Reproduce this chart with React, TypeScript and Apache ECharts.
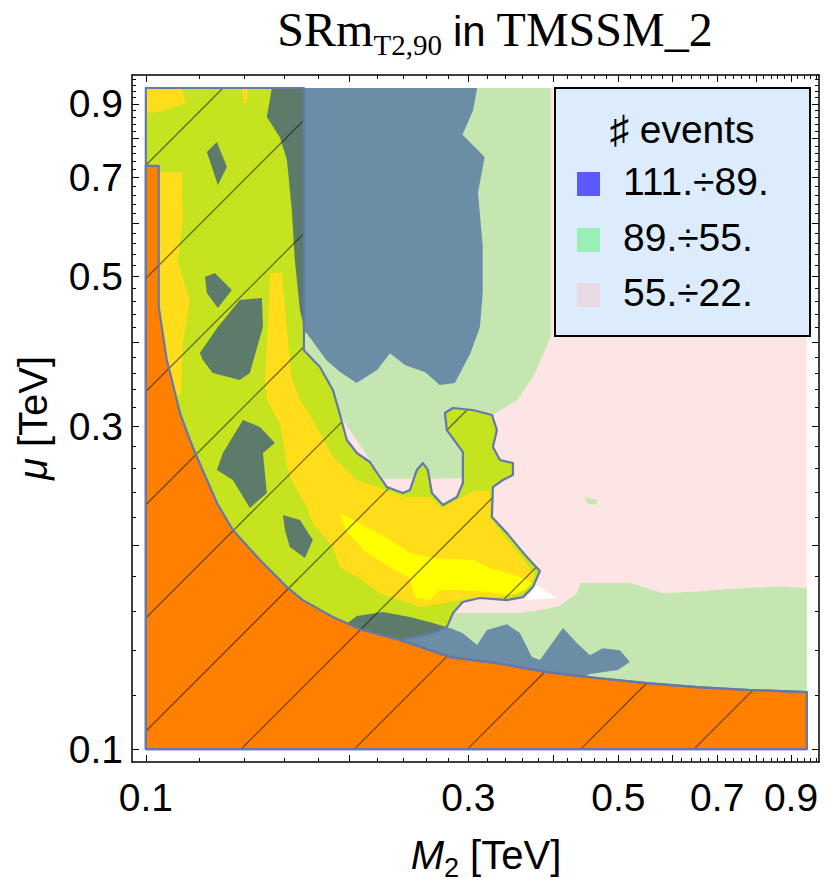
import React, { useEffect, useRef } from 'react';
import * as echarts from 'echarts';

// ---------- axes (TeV, log scale) ----------
const X_RANGE = [0.0954, 0.99];
const Y_RANGE = [0.0957, 0.993];
const X_TICK_LABELS = [0.1, 0.3, 0.5, 0.7, 0.9];
const Y_TICK_LABELS = [0.1, 0.3, 0.5, 0.7, 0.9];
const MAJOR_TICKS = [0.1, 0.2, 0.3, 0.4, 0.5, 0.6, 0.7, 0.8, 0.9];
const MINOR_TICKS: number[] = [];
for (let i = 10; i <= 98; i += 2) MINOR_TICKS.push(Number((i / 100).toFixed(2)));

// ---------- legend ----------
const LEGEND_TITLE = '♯ events';
const LEGEND_LABELS = ['111.÷89.', '89.÷55.', '55.÷22.'];

// ---------- regions, vertices as [M2, mu] in TeV ----------
const PINK_55_22 = [[0.1, 0.1], [0.95, 0.1], [0.95, 0.95], [0.1, 0.95]];

const GREEN_UPPER = [[0.169, 0.95], [0.397, 0.95], [0.397, 0.407], [0.374, 0.355], [0.354, 0.328], [0.334, 0.317], [0.323, 0.309], [0.302, 0.287], [0.296, 0.252], [0.272, 0.251], [0.224, 0.251], [0.187, 0.328], [0.169, 0.389]];
const GREEN_LOWER = [[0.272, 0.159], [0.312, 0.159], [0.357, 0.159], [0.389, 0.161], [0.41, 0.163], [0.434, 0.17], [0.439, 0.176], [0.52, 0.176], [0.582, 0.17], [0.653, 0.171], [0.731, 0.1725], [0.867, 0.174], [0.95, 0.173], [0.95, 0.118], [0.254, 0.131], [0.254, 0.153]];
const GREEN_ISLANDS = [
  [[0.446, 0.236], [0.466, 0.2335], [0.463, 0.2296], [0.449, 0.231]],
  [[0.228, 0.944], [0.231, 0.944], [0.231, 0.912], [0.228, 0.912]],
  [[0.2285, 0.665], [0.232, 0.66], [0.231, 0.642], [0.228, 0.65]],
];

const BLUE_UPPER = [[0.169, 0.95], [0.309, 0.95], [0.305, 0.882], [0.294, 0.81], [0.317, 0.751], [0.31, 0.665], [0.315, 0.553], [0.315, 0.473], [0.312, 0.421], [0.302, 0.385], [0.2865, 0.348], [0.272, 0.3455], [0.259, 0.361], [0.2416, 0.37], [0.2296, 0.385], [0.22, 0.364], [0.205, 0.348], [0.194, 0.361], [0.185, 0.376], [0.173, 0.412], [0.169, 0.417]];
const BLUE_LOWER = [[0.2376, 0.1445], [0.263, 0.1515], [0.2817, 0.151], [0.294, 0.1485], [0.309, 0.1425], [0.3195, 0.15], [0.342, 0.153], [0.3575, 0.1485], [0.3724, 0.1368], [0.3827, 0.1354], [0.414, 0.151], [0.434, 0.1435], [0.4538, 0.1377], [0.474, 0.141], [0.5026, 0.14], [0.52, 0.1345], [0.499, 0.1309], [0.4538, 0.1291], [0.41, 0.1223], [0.2376, 0.1223]];
const WHITE_GAP = [[0.3775, 0.1748], [0.4055, 0.1673], [0.3636, 0.1661]];

// excluded region boundary (upper part), then follows the orange edge
const EXCL_UPPER = [[0.1, 0.95], [0.1713, 0.95], [0.1713, 0.389], [0.1809, 0.3674], [0.1891, 0.3397], [0.1923, 0.3206], [0.1983, 0.2865], [0.2052, 0.2741], [0.2145, 0.2658], [0.2219, 0.2526], [0.2273, 0.2441], [0.24, 0.2392], [0.2458, 0.2416], [0.2517, 0.2587], [0.2569, 0.2649], [0.2613, 0.2587], [0.2649, 0.2392], [0.275, 0.2296], [0.2885, 0.236], [0.2944, 0.2475], [0.2944, 0.275], [0.2788, 0.2964], [0.2769, 0.3141], [0.2846, 0.3195], [0.3046, 0.3173], [0.325, 0.312], [0.3306, 0.2964], [0.3261, 0.2797], [0.334, 0.2676], [0.3491, 0.2649], [0.3491, 0.2543], [0.3374, 0.25], [0.3261, 0.2441], [0.325, 0.2204], [0.342, 0.2087], [0.3661, 0.1923], [0.3827, 0.1834], [0.3737, 0.1736], [0.3612, 0.1678], [0.342, 0.1661], [0.312, 0.1673], [0.2944, 0.165], [0.2846, 0.1589], [0.2788, 0.1515], [0.2631, 0.148]];
const ORANGE = [[0.1, 0.7286], [0.1045, 0.7286], [0.1045, 0.4507], [0.1074, 0.3762], [0.1093, 0.3515], [0.1123, 0.3141], [0.1162, 0.2865], [0.119, 0.2704], [0.1274, 0.2312], [0.1345, 0.2109], [0.1475, 0.1904], [0.1617, 0.1736], [0.1707, 0.1661], [0.1891, 0.1568], [0.2087, 0.15], [0.2376, 0.145], [0.2817, 0.1368], [0.3306, 0.134], [0.3919, 0.13], [0.4647, 0.1274], [0.551, 0.1252], [0.6533, 0.1235], [0.7826, 0.1223], [0.95, 0.1214], [0.95, 0.1], [0.1, 0.1]];
const EXCL = [...EXCL_UPPER, ...ORANGE.slice(15)];

const YELLOW_MAIN = [[0.1526, 0.506], [0.1589, 0.506], [0.1617, 0.4167], [0.1644, 0.3539], [0.169, 0.3283], [0.1766, 0.3067], [0.1891, 0.2704], [0.2052, 0.25], [0.2257, 0.2416], [0.2416, 0.236], [0.2631, 0.236], [0.274, 0.2273], [0.2894, 0.2335], [0.3067, 0.2416], [0.3228, 0.24], [0.3228, 0.2197], [0.3397, 0.2059], [0.3624, 0.1904], [0.3762, 0.1809], [0.3699, 0.1748], [0.3551, 0.1695], [0.334, 0.1678], [0.3015, 0.1673], [0.2722, 0.1639], [0.2543, 0.1622], [0.2376, 0.1661], [0.2219, 0.1701], [0.2087, 0.1778], [0.1936, 0.1859], [0.1891, 0.199], [0.1766, 0.2159], [0.1731, 0.228], [0.165, 0.2475], [0.1617, 0.2613], [0.1595, 0.2865], [0.1578, 0.3036], [0.151, 0.3283], [0.15, 0.3515], [0.1515, 0.4167]];
const YELLOW_BRIGHT = [[0.1936, 0.2234], [0.2094, 0.2145], [0.2273, 0.2052], [0.2458, 0.195], [0.2658, 0.1917], [0.3046, 0.1904], [0.3228, 0.1853], [0.3551, 0.1803], [0.3724, 0.176], [0.3636, 0.1719], [0.3455, 0.169], [0.3206, 0.1707], [0.2914, 0.1719], [0.2722, 0.1719], [0.2631, 0.1661], [0.25, 0.1673], [0.2458, 0.179], [0.2296, 0.1859], [0.2123, 0.195], [0.1983, 0.2094]];
const YELLOW_LEFT = [[0.1014, 0.7138], [0.113, 0.7138], [0.1134, 0.6062], [0.1115, 0.5254], [0.1162, 0.4616], [0.1134, 0.396], [0.1127, 0.334], [0.1049, 0.334], [0.1014, 0.4507]];
const YELLOW_TOP = [[0.1, 0.95], [0.113, 0.95], [0.1146, 0.903], [0.1049, 0.8757], [0.1, 0.8727]];
const YELLOW_DOT = [[0.1387, 0.95], [0.1415, 0.95], [0.141, 0.903], [0.1395, 0.903]];

const DARK_PATCHES = [
  [[0.1536, 0.95], [0.1713, 0.95], [0.1713, 0.421], [0.169, 0.4461], [0.1661, 0.5289], [0.1644, 0.6272], [0.1617, 0.7436], [0.1578, 0.8042], [0.151, 0.8609]],
  [[0.1231, 0.7641], [0.1274, 0.7906], [0.1318, 0.7261], [0.1278, 0.6829]],
  [[0.1223, 0.4992], [0.1265, 0.506], [0.134, 0.4776], [0.1278, 0.4492], [0.1231, 0.4727]],
  [[0.1202, 0.3853], [0.1278, 0.421], [0.1377, 0.4616], [0.1485, 0.4647], [0.149, 0.421], [0.1425, 0.3599], [0.1377, 0.3515], [0.1256, 0.3599], [0.1214, 0.3762]],
  [[0.1392, 0.3067], [0.1475, 0.2995], [0.1552, 0.2836], [0.149, 0.2741], [0.151, 0.2392], [0.1425, 0.2273], [0.1345, 0.25], [0.1274, 0.2587], [0.13, 0.2741]],
  [[0.1595, 0.2219], [0.169, 0.2182], [0.1766, 0.2038], [0.1719, 0.1917], [0.1633, 0.199], [0.1606, 0.2109]],
  [[0.197, 0.1526], [0.2052, 0.1573], [0.2242, 0.1595], [0.2458, 0.1568], [0.2658, 0.1536], [0.2778, 0.1515], [0.2631, 0.148], [0.2376, 0.145], [0.2145, 0.148], [0.2003, 0.15]],
];

// ---------- styles ----------
const C = {
  pink: '#fde5e5',
  green: '#c5e6b0',
  blue: '#6b8ea6',
  dark: '#5d7b6a',
  yg: '#c5e31f',
  yellow: '#ffdd1a',
  bright: '#ffff00',
  orange: '#ff8000',
  outline: '#6479aa',
  hatch: 'rgba(25,25,25,0.6)',
  legendBg: '#dcecfc',
  legBlue: '#5a5aff',
  legGreen: '#9af0b4',
  legPink: '#e8d9e2',
};
const HATCH_STEP = 113.2; // px between hatch lines (horizontal)
const HATCH_PHASE = 311; // px, x+y of one hatch line
const SANS = "'Liberation Sans', Arial, 'DejaVu Sans', sans-serif";
const SERIF = "'Liberation Serif', 'Times New Roman', 'DejaVu Serif', serif";

type Layer = { pts: number[][]; fill?: string; stroke?: string; lw?: number; hatch?: boolean };
const LAYERS: Layer[] = [
  { pts: PINK_55_22, fill: C.pink },
  { pts: GREEN_UPPER, fill: C.green },
  { pts: GREEN_LOWER, fill: C.green },
  ...GREEN_ISLANDS.map((p) => ({ pts: p, fill: C.green })),
  { pts: BLUE_UPPER, fill: C.blue },
  { pts: BLUE_LOWER, fill: C.blue },
  { pts: WHITE_GAP, fill: '#ffffff' },
  { pts: EXCL, fill: C.yg },
  { pts: YELLOW_MAIN, fill: C.yellow },
  { pts: YELLOW_LEFT, fill: C.yellow },
  { pts: YELLOW_TOP, fill: C.yellow },
  { pts: YELLOW_DOT, fill: C.yellow },
  { pts: YELLOW_BRIGHT, fill: C.bright },
  ...DARK_PATCHES.map((p) => ({ pts: p, fill: C.dark })),
  { pts: ORANGE, fill: C.orange },
  { pts: EXCL, hatch: true },
  { pts: EXCL, stroke: C.outline, lw: 2.2 },
  { pts: ORANGE, stroke: C.outline, lw: 2.2 },
];

function hatchSegments(poly: number[][]) {
  let minC = Infinity, maxC = -Infinity;
  poly.forEach((p) => { const c = p[0] + p[1]; minC = Math.min(minC, c); maxC = Math.max(maxC, c); });
  const k0 = Math.ceil((minC - HATCH_PHASE) / HATCH_STEP);
  const segs: number[][] = [];
  for (let k = k0; HATCH_PHASE + k * HATCH_STEP <= maxC; k++) {
    const c = HATCH_PHASE + k * HATCH_STEP;
    const xs: number[] = [];
    for (let i = 0; i < poly.length; i++) {
      const a = poly[i], b = poly[(i + 1) % poly.length];
      const fa = a[0] + a[1] - c, fb = b[0] + b[1] - c;
      if ((fa < 0 && fb >= 0) || (fa >= 0 && fb < 0)) {
        const t = fa / (fa - fb);
        xs.push(a[0] + t * (b[0] - a[0]));
      }
    }
    xs.sort((u, v) => u - v);
    for (let j = 0; j + 1 < xs.length; j += 2) segs.push([xs[j], c - xs[j], xs[j + 1], c - xs[j + 1]]);
  }
  return segs;
}

type Run = { text: string; size: number; family: string; italic?: boolean; dy?: number; pre?: number };
function runsToElements(runs: Run[], cx: number, baseline: number) {
  const ctx = document.createElement('canvas').getContext('2d') as CanvasRenderingContext2D;
  const widths = runs.map((r) => {
    ctx.font = `${r.italic ? 'italic ' : ''}${r.size}px ${r.family}`;
    return ctx.measureText(r.text).width;
  });
  const total = runs.reduce((s, r, i) => s + widths[i] + (r.pre || 0), 0);
  let x = cx - total / 2;
  return runs.map((r, i) => {
    x += r.pre || 0;
    const el = {
      type: 'text', x, y: baseline + (r.dy || 0) - 0.34 * r.size, z: 100,
      style: { text: r.text, fontSize: r.size, fontFamily: r.family, fontStyle: r.italic ? 'italic' : 'normal', fill: '#000', align: 'left', verticalAlign: 'middle' },
    };
    x += widths[i];
    return el;
  });
}

function axisBase(extra: any) {
  return {
    type: 'log', logBase: 10,
    splitLine: { show: false },
    axisLine: { show: false, onZero: false, lineStyle: { color: '#000', width: 1.5 } },
    axisLabel: { show: false },
    axisTick: { show: false },
    ...extra,
  };
}

export default function App() {
  const ref = useRef<HTMLDivElement>(null);
  useEffect(() => {
    if (!ref.current) return;
    const chart = echarts.init(ref.current, undefined, { renderer: 'svg' });
    const tickLabel = { fontSize: 39, fontFamily: SANS, color: '#000' };
    const fmt = (v: number) => Number(v).toFixed(1);
    const xa = { min: X_RANGE[0], max: X_RANGE[1] };
    const ya = { min: Y_RANGE[0], max: Y_RANGE[1] };
    const line = { show: true, onZero: false, lineStyle: { color: '#000', width: 1.5 } };
    const minor = { show: true, inside: true, length: 4, lineStyle: { color: '#000', width: 1 }, customValues: MINOR_TICKS };
    const major = { show: true, inside: true, length: 7, lineStyle: { color: '#000', width: 1 }, customValues: MAJOR_TICKS };
    const xAxis = [
      axisBase({ ...xa, position: 'bottom', axisLine: line, axisTick: minor,
        axisLabel: { show: true, ...tickLabel, margin: 16, customValues: X_TICK_LABELS, formatter: fmt } }),
      axisBase({ ...xa, position: 'bottom', axisTick: major }),
      axisBase({ ...xa, position: 'top', axisLine: line, axisTick: minor }),
      axisBase({ ...xa, position: 'top', axisTick: major }),
    ];
    const yAxis = [
      axisBase({ ...ya, position: 'left', axisLine: line, axisTick: minor,
        axisLabel: { show: true, ...tickLabel, margin: 9, customValues: Y_TICK_LABELS, formatter: fmt } }),
      axisBase({ ...ya, position: 'left', axisTick: major }),
      axisBase({ ...ya, position: 'right', axisLine: line, axisTick: minor }),
      axisBase({ ...ya, position: 'right', axisTick: major }),
    ];

    const titleEls = runsToElements([
      { text: 'SRm', size: 48, family: SERIF },
      { text: 'T2,90', size: 29, family: SERIF, dy: 9 },
      { text: 'in', size: 42, family: SANS, pre: 11 },
      { text: 'TMSSM_2', size: 48, family: SERIF, pre: 11 },
    ], 495, 46);
    const xNameEls = runsToElements([
      { text: 'M', size: 40, family: SANS, italic: true },
      { text: '2', size: 27, family: SANS, dy: 8 },
      { text: '[TeV]', size: 40, family: SANS, pre: 11 },
    ], 486, 869);
    const yNameEls = runsToElements([
      { text: 'μ', size: 40, family: SANS, italic: true },
      { text: '[TeV]', size: 40, family: SANS, pre: 11 },
    ], 0, 0);

    const legendColors = [C.legBlue, C.legGreen, C.legPink];
    const legendRowsY = [184, 240, 295];
    const legendEls: any[] = [
      { type: 'rect', z: 100, shape: { x: 555, y: 88, width: 255, height: 248 }, style: { fill: C.legendBg, stroke: '#000', lineWidth: 2 } },
      { type: 'text', z: 101, x: 682, y: 129, style: { text: LEGEND_TITLE, fontSize: 39, fontFamily: SANS, fill: '#000', align: 'center', verticalAlign: 'middle' } },
    ];
    LEGEND_LABELS.forEach((lab, i) => {
      legendEls.push({ type: 'rect', z: 101, shape: { x: 577, y: legendRowsY[i] - 12, width: 23, height: 24 }, style: { fill: legendColors[i] } });
      legendEls.push({ type: 'text', z: 101, x: 623, y: legendRowsY[i] - 3, style: { text: lab, fontSize: 39, fontFamily: SANS, fill: '#000', align: 'left', verticalAlign: 'middle' } });
    });

    chart.setOption({
      animation: false,
      grid: { left: 132, right: 11, top: 75, bottom: 128, containLabel: false, outerBoundsMode: 'none' },
      xAxis,
      yAxis,
      series: [{
        type: 'custom',
        coordinateSystem: 'cartesian2d',
        xAxisIndex: 0,
        yAxisIndex: 0,
        clip: false,
        silent: true,
        data: LAYERS.map(() => [0.5, 0.5]),
        encode: { x: 0, y: 1 },
        renderItem: (params: any, api: any) => {
          const L = LAYERS[params.dataIndex];
          const pts = L.pts.map((p) => api.coord(p));
          if (L.hatch) {
            return {
              type: 'group',
              children: hatchSegments(pts).map((s) => ({
                type: 'line', shape: { x1: s[0], y1: s[1], x2: s[2], y2: s[3] },
                style: { stroke: C.hatch, lineWidth: 1.3 },
              })),
            };
          }
          return {
            type: 'polygon',
            shape: { points: pts },
            style: { fill: L.fill || 'none', stroke: L.stroke || 'none', lineWidth: L.lw || 0, lineJoin: 'round' },
          };
        },
      }],
      graphic: [
        ...titleEls,
        ...xNameEls,
        { type: 'group', x: 47, y: 418, rotation: Math.PI / 2, z: 100, children: yNameEls },
        ...legendEls,
      ],
    });
    return () => chart.dispose();
  }, []);
  return <div ref={ref} style={{ position: 'absolute', left: 0, top: 0, width: 830, height: 890 }} />;
}
